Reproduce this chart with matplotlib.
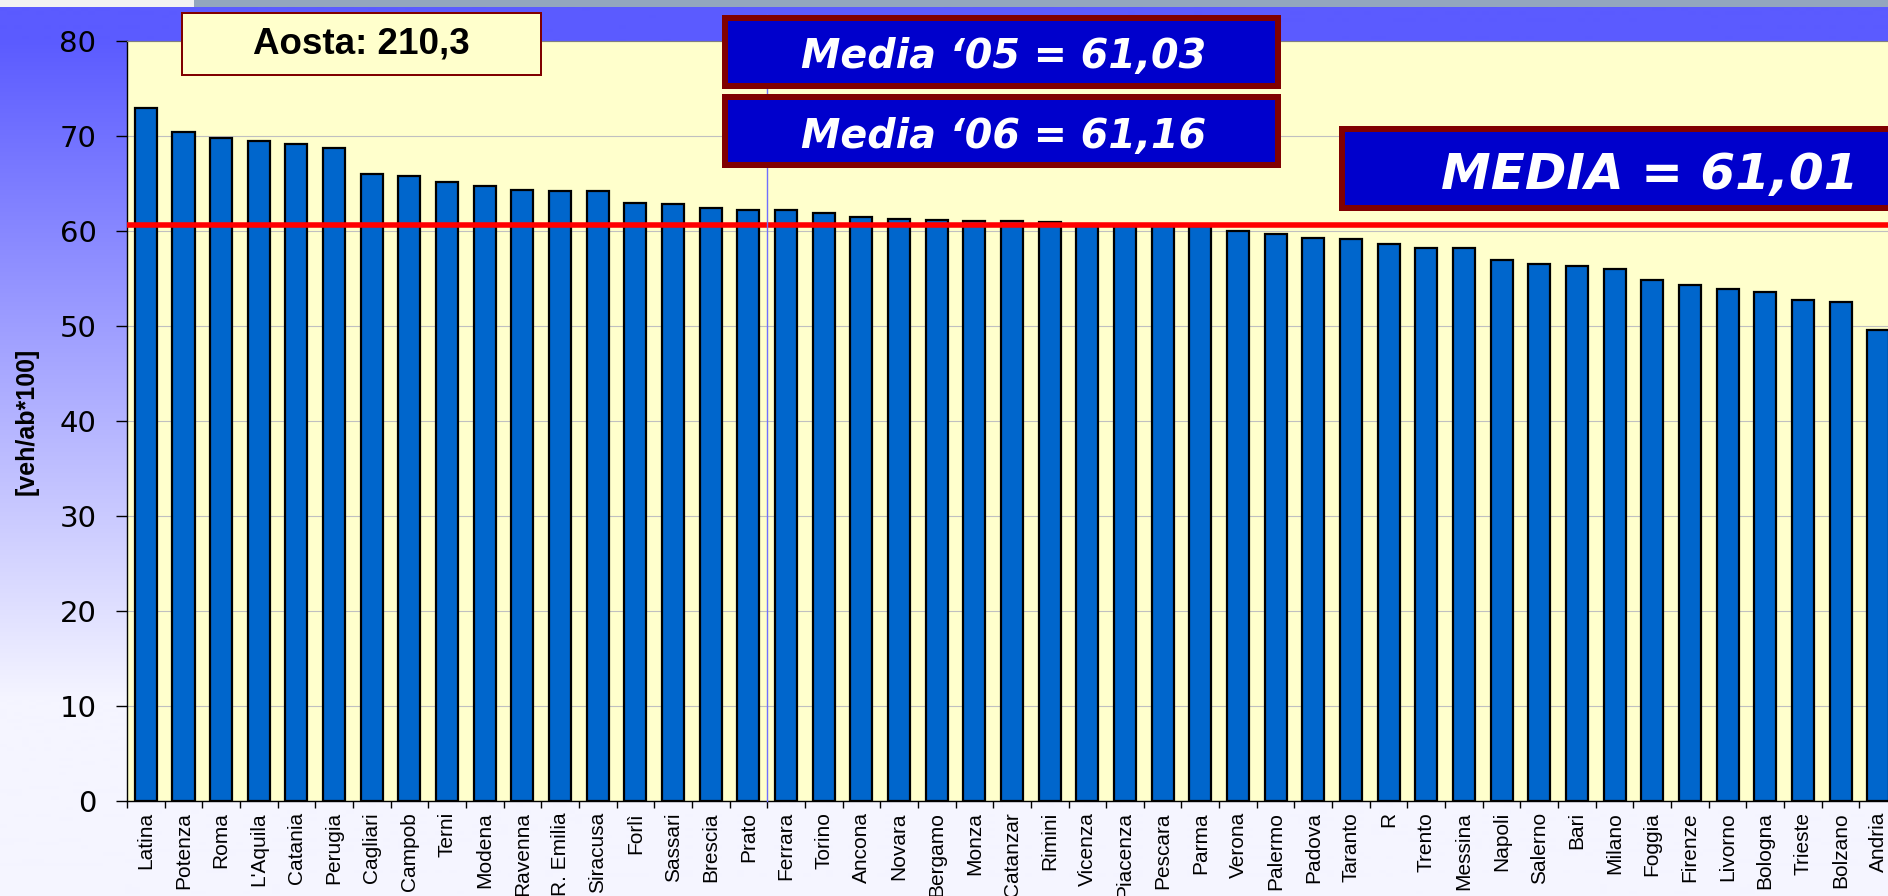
import numpy as np
import matplotlib
matplotlib.use("Agg")
import matplotlib.pyplot as plt
import matplotlib.ticker as mticker
import matplotlib.transforms as mtransforms
from matplotlib.patches import Rectangle

plt.rcParams["font.family"] = ["Liberation Sans", "DejaVu Sans"]

# dati
cities = ["Latina", "Potenza", "Roma", "L'Aquila", "Catania", "Perugia", "Cagliari",
          "Campob", "Terni", "Modena", "Ravenna", "R. Emilia", "Siracusa", "Forlì",
          "Sassari", "Brescia", "Prato", "Ferrara", "Torino", "Ancona", "Novara",
          "Bergamo", "Monza", "Catanzar", "Rimini", "Vicenza", "Piacenza", "Pescara",
          "Parma", "Verona", "Palermo", "Padova", "Taranto", "R", "Trento", "Messina",
          "Napoli", "Salerno", "Bari", "Milano", "Foggia", "Firenze", "Livorno",
          "Bologna", "Trieste", "Bolzano", "Andria"]
values = [72.9, 70.4, 69.8, 69.5, 69.2, 68.7, 66.0, 65.8, 65.2, 64.7, 64.3, 64.2, 64.2,
          62.9, 62.8, 62.4, 62.2, 62.2, 61.9, 61.5, 61.3, 61.2, 61.0, 61.0, 60.9,
          60.7, 60.6, 60.6, 60.5, 60.0, 59.7, 59.3, 59.2, 58.6, 58.2, 58.2,
          56.9, 56.5, 56.3, 56.0, 54.8, 54.3, 53.9, 53.6, 52.7, 52.5, 49.6]
media_line = 60.67
aosta_text = "Aosta: 210,3"
media05_text = "Media \u201805 = 61,03"
media06_text = "Media \u201806 = 61,16"
media_text = "MEDIA = 61,01"
y_label = "[veh/ab*100]"

W, H = 1888, 896
fig = plt.figure(figsize=(W / 100, H / 100), dpi=100)


def fx(px):
    return px / W


def fy(py):
    # py misurato dall'alto
    return 1 - py / H


# sfondo sfumato blu -> bianco
bg = fig.add_axes([0, 0, 1, 1], zorder=-10)
bg.axis("off")
rows = np.arange(H)
shade = np.clip(91 + 154 * (rows - 41) / 659, 91, 245) / 255
img = np.ones((H, 1, 3))
img[:, 0, 0] = shade
img[:, 0, 1] = shade
bg.imshow(img, aspect="auto", extent=[0, 1, 0, 1])
bg.set_xlim(0, 1)
bg.set_ylim(0, 1)

# striscia in alto
fig.add_artist(Rectangle((0, fy(7)), 1, 7 / H, fc="#93A6BE", ec="none",
                         transform=fig.transFigure, zorder=1))
fig.add_artist(Rectangle((0, fy(7)), fx(194), 7 / H, fc="#F2F2F2", ec="none",
                         transform=fig.transFigure, zorder=1))

ax = fig.add_axes([fx(127), fy(801), 1 - fx(127), (801 - 41) / H])
ax.set_facecolor("#FFFFCC")

x = np.arange(len(cities))
ax.bar(x, values, width=0.585, color="#0066CC", edgecolor="black", linewidth=1.6, zorder=3)

ax.set_xlim(-0.5, 46.26)
ax.set_ylim(0, 80)
ax.set_yticks(range(0, 81, 10))
ax.yaxis.grid(True, color="#C0C0C0", linewidth=0.8)
ax.set_axisbelow(True)

ax.spines["right"].set_visible(False)
ax.spines["top"].set_color("#808080")
ax.spines["left"].set_linewidth(1)
ax.spines["bottom"].set_linewidth(1)

ax.tick_params(axis="y", length=8, width=1, pad=14, labelsize=21)
for lbl in ax.get_yticklabels():
    lbl.set_family("DejaVu Sans")

# tacche tra le categorie, etichette al centro
ax.xaxis.set_major_locator(mticker.FixedLocator(np.arange(-0.5, 47, 1)))
ax.xaxis.set_major_formatter(mticker.NullFormatter())
ax.set_xticks(x, minor=True)
ax.set_xticklabels(cities, minor=True, rotation=90, fontsize=15)
ax.tick_params(axis="x", which="major", length=5, width=1)
ax.tick_params(axis="x", which="minor", length=0, pad=8)

# linea della media
ax.axhline(media_line, color="#FF0000", linewidth=4, zorder=5)

# linea verticale sottile
trans = mtransforms.blended_transform_factory(ax.transData, ax.transAxes)
ax.plot([16.5, 16.5], [0, 1.034], transform=trans, color="#7070FF", linewidth=1,
        clip_on=False, zorder=40)

fig.text(fx(27), fy(421), y_label, rotation=90, ha="center", va="center",
         fontsize=18, fontweight="bold")


def box(x0, y0, x1, y1, fc, ec, lw_px):
    inset = lw_px / 2
    r = Rectangle((fx(x0 + inset), fy(y1 - inset)), fx(x1 - x0 - 2 * inset),
                  (y1 - y0 - 2 * inset) / H, fc=fc, ec=ec, linewidth=lw_px * 0.72,
                  transform=fig.transFigure, zorder=30)
    fig.add_artist(r)


box(181, 12, 542, 76, "#FFFFCC", "#800000", 2)
fig.text(fx(361), fy(44), aosta_text, ha="center", va="center", fontsize=26.5,
         fontweight="bold", color="black", zorder=31)

box(722, 15, 1281, 89, "#0000CC", "#800000", 6)
box(722, 94, 1281, 168, "#0000CC", "#800000", 6)
box(1339, 126, 1910, 211, "#0000CC", "#800000", 6)

fig.text(fx(1004), fy(68), media05_text, ha="center", va="baseline", fontsize=28.5,
         fontweight="bold", style="italic", family="DejaVu Sans", color="white", zorder=31)
fig.text(fx(1004), fy(148), media06_text, ha="center", va="baseline", fontsize=28.5,
         fontweight="bold", style="italic", family="DejaVu Sans", color="white", zorder=31)
fig.text(fx(1650), fy(189), media_text, ha="center", va="baseline", fontsize=36,
         fontweight="bold", style="italic", family="DejaVu Sans", color="white", zorder=31)

fig.savefig("out.png", dpi=100)
